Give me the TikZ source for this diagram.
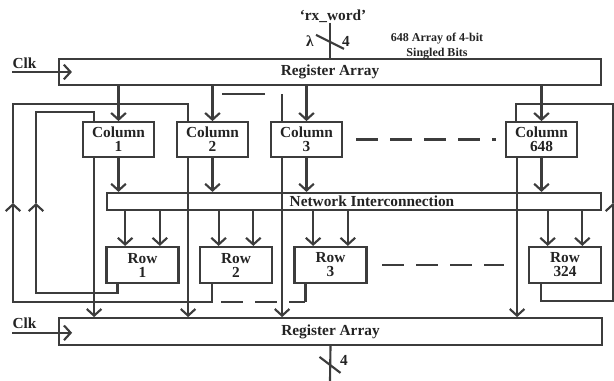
\documentclass[tikz,border=0pt]{standalone}
\usepackage{fontspec}
\setmainfont{Liberation Serif}
\usetikzlibrary{arrows.meta}
\definecolor{WireGray}{RGB}{60,60,60}
\definecolor{InkGray}{RGB}{35,35,35}

\begin{document}
\begin{tikzpicture}[x=0.75pt, y=-0.75pt,
box/.style={draw=WireGray, line width=1.6pt, inner sep=0pt, align=center,
text=InkGray, font=\fontsize{11.5}{10.5}\selectfont\bfseries},
colbox/.style={box, minimum width=53pt, minimum height=26pt},
rowbox/.style={box, minimum width=54pt, minimum height=27pt},
lbl/.style={text=InkGray, inner sep=0pt, align=center, font=\fontsize{11.5}{12}\selectfont\bfseries},
wire/.style={draw=WireGray, line width=1.6pt},
arr/.style={wire, -{Straight Barb[length=5pt,width=11pt]}},
dashline/.style={wire, dash pattern=on 16.5pt off 9pt}]
\useasboundingbox (0,0) rectangle (614,381);
% registers and network
\node[box, minimum width=406.5pt, minimum height=19.5pt] (regtop) at (330,72) {Register Array};
\node[box, minimum width=407pt, minimum height=20pt] (regbot) at (330.5,331.5) {Register Array};
\node[box, minimum width=370.5pt, minimum height=12.75pt] (net) at (354,201.5) {};
\node[lbl] (netlbl) at (372,201.5) {Network Interconnection};
% columns and rows
\node[colbox] (c1) at (118.5,139.5) {Column\\1};
\node[colbox] (c2) at (212.5,139.5) {Column\\2};
\node[colbox] (c3) at (306.5,139.5) {Column\\3};
\node[colbox] (c648) at (541.5,139.5) {Column\\648};
\node[rowbox] (r1) at (142.5,265) {Row\\1};
\node[rowbox] (r2) at (236,265) {Row\\2};
\node[rowbox] (r3) at (330.5,265) {Row\\3};
\node[rowbox] (r324) at (565,265) {Row\\324};
% labels
\node[lbl] (rx) at (333,16) {‘rx\_word’};
\node[lbl] (lam) at (310,41) {λ};
\node[lbl] (w4a) at (346,41) {4};
\node[lbl, font=\fontsize{9}{11}\selectfont\bfseries] (note) at (437,46) {648 Array of 4-bit\\Singled Bits};
\node[lbl] (clk1) at (24.5,63) {Clk};
\node[lbl] (clk2) at (24.5,323) {Clk};
\node[lbl] (w4b) at (344,360) {4};
\coordinate (busout) at (330,381);
\coordinate (fbA) at (36,203);
\coordinate (fbB) at (13,203);
\coordinate (fbC) at (613,203);

% input bus and clocks
\draw[wire] (regtop.north |- rx.south) -- (regtop.north);
\draw[wire] (regtop.north) ++(0,-16) ++(-14,-7) -- ++(28,14);
\draw[wire] (regbot.south) -- (busout);
\draw[wire] (regbot.south) ++(0,19) ++(-11,-8) -- ++(21,16);
\draw[arr] (clk1.south west |- regtop.west) -- ([xshift=10.5pt]regtop.west);
\draw[arr] ([yshift=-1pt]clk2.south west |- regbot.west) -- ([xshift=10.5pt,yshift=-1pt]regbot.west);

% column paths
\foreach \c in {c1,c2,c3,c648} {
\draw[arr] (\c.north |- regtop.south) -- (\c.north);
\draw[arr] (\c.south) -- (\c.south |- net.north);
\draw[arr] ([xshift=9pt]\c.south west) -- ([xshift=9pt]\c.south west |- regbot.north);
}
\foreach \r in {r1,r2,r3,r324} {
\draw[arr] ([xshift=-13pt]\r.north |- net.south) -- ([xshift=-13pt]\r.north);
\draw[arr] ([xshift=13pt]\r.north |- net.south) -- ([xshift=13pt]\r.north);
}

% feedback loops
\draw[arr] ([xshift=9pt]r1.south west) -- ++(0,9) -| (fbA);
\draw[wire] (fbA) -- ++(0,-91) -| ([xshift=9pt]c1.north west);
\draw[arr] ([xshift=9.75pt]r2.south west) -- ++(0,18) -| (fbB);
\draw[wire] (fbB) -- ++(0,-99) -| ([xshift=9pt]c2.north west);
\draw[arr] ([xshift=9.75pt]r324.south west) -- ++(0,17) -| (fbC);
\draw[wire] (fbC) -- ++(0,-99) -| ([xshift=8.25pt]c648.north west);
\draw[wire] ([xshift=9pt]c3.north west) -- ++(0,-27) ++(-17,0) -- ++(-43,0);
\draw[wire] ([xshift=9pt]r3.south west) -- ++(0,18) coordinate (r3fb);
\draw[dashline] ([xshift=-63pt]r3fb) -- (r3fb);

% elided columns and rows
\draw[dashline] ([xshift=10pt]c3.east) -- ([xshift=-7pt]c648.west);
\draw[dashline] ([xshift=11pt]r3.east) -- ([xshift=-18pt]r324.west);
\end{tikzpicture}
\end{document}
